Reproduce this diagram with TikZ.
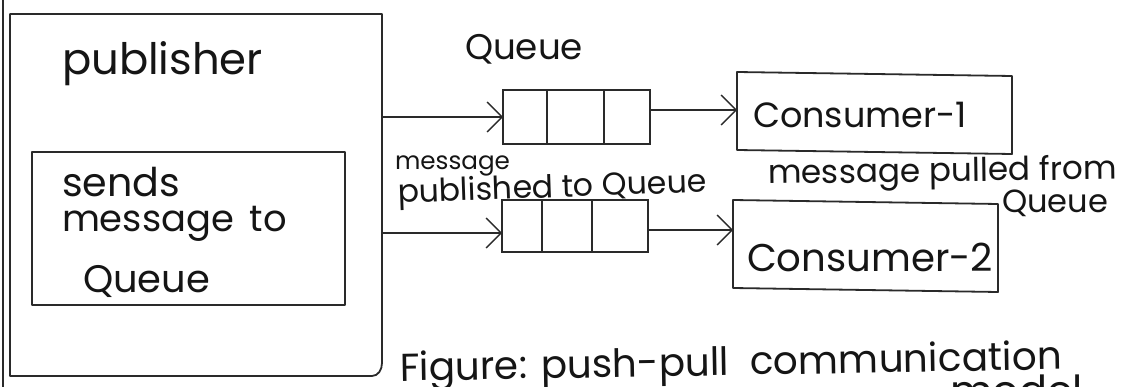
\documentclass[tikz,border=0pt]{standalone}
\usepackage{fontspec}
\usepackage{graphicx}
\setmainfont{Poppins}
\usetikzlibrary{arrows.meta}

% text stretched to a given width (in pt), keeping its baseline
\newcommand{\inkw}[2]{\resizebox{#1pt}{!}{\fontsize{30}{36}\selectfont #2}}

\definecolor{ink}{HTML}{151515}
\definecolor{pencil}{HTML}{2A2A2A}

\tikzset{
  boxline/.style={draw=pencil, line width=1.8pt, line join=round},
  frame/.style={minimum width=#1, inner sep=0pt, outer sep=0pt},
  cell/.style={draw=pencil, line width=1.6pt},
  label/.style={anchor=base west, inner sep=0pt, outer sep=0pt, text=ink},
  flow/.style={draw=pencil, line width=1.3pt,
    -{Straight Barb[length=15pt,width=30pt,line width=1.3pt]}}
}

\begin{document}
\begin{tikzpicture}[x=1pt,y=-1pt]
\useasboundingbox (0,0) rectangle (1125,387);
\fill[white] (0,0) rectangle (1125,387);

% notebook margin rule
\draw[draw=pencil, line width=2.4pt] (3,-2) -- (3,390);

% publisher frame with its curled lower right corner
\node[frame=372pt, minimum height=362pt] (pub) at (196,195) {};
\draw[boxline] (pub.north west) -- (pub.north east)
  -- ([yshift=13pt]pub.south east) to[out=-90,in=0] ([xshift=-10pt]pub.south east)
  -- (pub.south west) -- cycle;

% inner box of the publisher
\node[boxline, frame=313pt, minimum height=153pt] (send) at (188.5,228.5) {};

% the two queues with their cells
\node[cell, frame=147pt, minimum height=54pt] (q1) at (576.5,117) {};
\draw[cell] ([xshift=44pt]q1.north west) -- ([xshift=44pt]q1.south west);
\draw[cell] ([xshift=101pt]q1.north west) -- ([xshift=101pt]q1.south west);

\node[cell, frame=146pt, minimum height=52pt] (q2) at (575,226) {};
\draw[cell] ([xshift=40pt]q2.north west) -- ([xshift=40pt]q2.south west);
\draw[cell] ([xshift=90pt]q2.north west) -- ([xshift=90pt]q2.south west);

% consumers
\node[frame=275pt, minimum height=78pt] (c1) at (874.5,113) {};
\draw[boxline] ([yshift=2pt]c1.north west) -- ([yshift=-2pt]c1.north east)
  -- ([yshift=-2pt]c1.south east) -- ([yshift=2pt]c1.south west) -- cycle;
\node[frame=265pt, minimum height=88pt] (c2) at (865.5,246) {};
\draw[boxline] ([yshift=2pt]c2.north west) -- ([yshift=-2pt]c2.north east)
  -- ([yshift=-2pt]c2.south east) -- ([yshift=2pt]c2.south west) -- cycle;

% connectors
\coordinate (in2) at ([yshift=-7pt]q2.west);
\coordinate (out1) at ([yshift=7pt]q1.east);
\coordinate (out2) at ([yshift=-4pt]q2.east);
\draw[flow] (pub.east |- q1.west) -- (q1.west);
\draw[flow] (pub.east |- in2) -- (in2);
\draw[flow] (out1) -- (c1.west |- out1);
\draw[flow] (out2) -- (c2.west |- out2);

% texts
\node[label] (tpub) at (62,75) {\inkw{201}{publisher}};
\node[label] (tsend1) at (62,197) {\inkw{118}{sends}};
\node[label] (tsend2) at (62,232) {\inkw{225}{message \,to}};
\node[label] (tsend3) at (83,293) {\inkw{127}{Queue}};

\node[label] (tqueue) at (465,60) {\inkw{118}{Queue}};
\node[label] (tpubl1) at (395,170) {\inkw{115}{message}};
\node[label, rotate=2] (tpubl2) at (398,203) {\inkw{309}{published to Queue}};

\node[label] (tc1) at (753,128) {\inkw{214}{Consumer-1}};
\node[label, rotate=0.8] (tpull1) at (768,184) {\inkw{349}{message pulled from}};
\node[label] (tpull2) at (1002,213) {\inkw{106}{Queue}};
\node[label] (tc2) at (747,272) {\inkw{246}{Consumer-2}};

\node[label, rotate=1] (tcap1) at (400,381) {\inkw{662}{Figure: push-pull \ communication}};
\node[label] (tcap2) at (950,406) {\inkw{133}{model}};
\end{tikzpicture}
\end{document}
